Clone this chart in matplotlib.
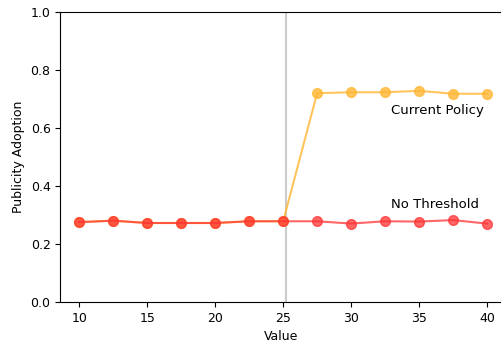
import matplotlib
matplotlib.use("Agg")
import matplotlib.pyplot as plt

x = [10, 12.5, 15, 17.5, 20, 22.5, 25, 27.5, 30, 32.5, 35, 37.5, 40]
no_threshold = [0.275, 0.280, 0.272, 0.272, 0.272, 0.278, 0.278, 0.278, 0.270, 0.278, 0.277, 0.282, 0.270]
current_policy = [0.275, 0.280, 0.272, 0.272, 0.272, 0.278, 0.278, 0.720, 0.723, 0.723, 0.728, 0.718, 0.718]
threshold = 25.2

fig = plt.figure(figsize=(5.02, 3.43), dpi=100)
ax = fig.add_axes([0.12, 0.12, 0.88, 0.845])

ax.axvline(threshold, color="#cccccc", lw=1.5, zorder=0)
ax.plot(x, current_policy, color="#FFB733", alpha=0.8, marker="o", markersize=7, lw=1.5)
ax.plot(x, no_threshold, color="#FF3333", alpha=0.75, marker="o", markersize=7, lw=1.5)

ax.text(32.9, 0.66, "Current Policy", fontsize=9.5, ha="left", va="center")
ax.text(32.9, 0.335, "No Threshold", fontsize=9.5, ha="left", va="center")

ax.set_ylim(0, 1.0)
ax.set_xlim(8.6, 41.1)
ax.set_xlabel("Value", fontsize=9)
ax.set_ylabel("Publicity Adoption", fontsize=9)
ax.tick_params(labelsize=9)
ax.spines["right"].set_visible(False)

fig.savefig("out.png", dpi=100)
